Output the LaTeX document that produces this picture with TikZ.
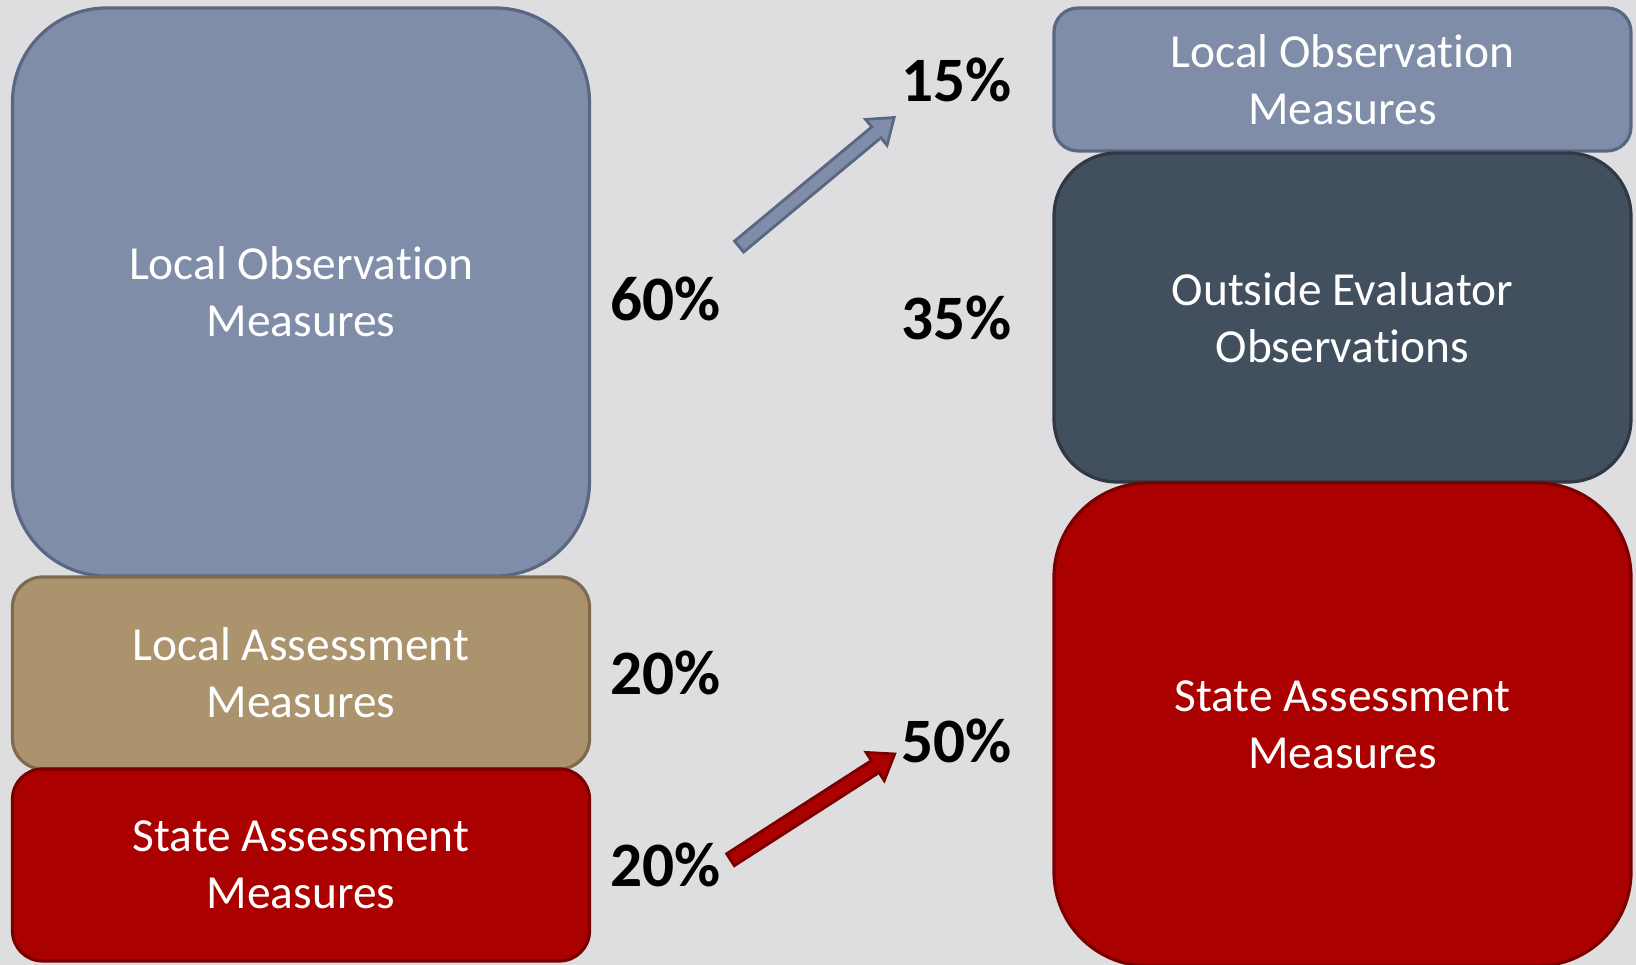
\documentclass[tikz,border=0pt]{standalone}
\usepackage{fontspec}
\setmainfont{Carlito}[Ligatures=NoCommon]
\usepackage{xcolor}
\usepackage{tikz}
\usetikzlibrary{arrows.meta,positioning}
\definecolor{bgc}{HTML}{DEDEE0}
\definecolor{obsfill}{HTML}{7F8DA8}
\definecolor{obsedge}{HTML}{5B6782}
\definecolor{locfill}{HTML}{AB936E}
\definecolor{locedge}{HTML}{7E6B4F}
\definecolor{stfill}{HTML}{AA0000}
\definecolor{stedge}{HTML}{7A0000}
\definecolor{outfill}{HTML}{424F5E}
\definecolor{outedge}{HTML}{2F3843}
\tikzset{measure box/.style={rectangle,draw,line width=0.032cm,outer sep=0pt,inner sep=0pt,minimum width=5.77cm,text=white,align=center,font=\fontsize{13.5}{16.3}\selectfont},}
\tikzset{pct/.style={inner sep=0pt,font=\fontsize{18}{20}\selectfont\bfseries},}
\tikzstyle{arrow edge} = [line width=0.17cm,-{Triangle[width=0.39cm,length=0.27cm,line width=0pt]}]
\tikzstyle{arrow core} = [line width=0.11cm,-{Triangle[width=0.28cm,length=0.19cm,line width=0pt]},shorten <=0.03cm,shorten >=0.05cm]

\begin{document}
\begin{tikzpicture}
    \fill[bgc] (0,0) rectangle (16.36,9.65);
    \useasboundingbox (0,0) rectangle (16.36,9.65);

    % before
    \node[measure box,fill=obsfill,draw=obsedge,minimum height=5.68cm,rounded corners=0.94cm] (obs) at (3.01,6.73) {Local Observation\\Measures};
    \node[measure box,fill=locfill,draw=locedge,minimum height=1.92cm,rounded corners=0.3cm] (loc)[below=0.01cm of obs] {Local Assessment\\Measures};
    \node[measure box,fill=stfill,draw=stedge,minimum height=1.92cm,rounded corners=0.3cm] (st)[below=0pt of loc] {State Assessment\\Measures};

    % after
    \node[measure box,fill=obsfill,draw=obsedge,minimum height=1.43cm,rounded corners=0.24cm] (obs2) at (13.425,8.855) {Local Observation\\Measures};
    \node[measure box,fill=outfill,draw=outedge,minimum height=3.29cm,rounded corners=0.63cm] (out)[below=0.02cm of obs2] {Outside Evaluator\\Observations};
    \node[measure box,fill=stfill,draw=stedge,minimum height=4.83cm,rounded corners=0.94cm] (st2)[below=0.01cm of out] {State Assessment\\Measures};

    \node[pct] (p60)[right=0.2cm of obs,yshift=-0.07cm] {60\%};
    \node[pct] (p20)[right=0.2cm of loc] {20\%};
    \node[pct] (p20b)[right=0.2cm of st] {20\%};
    \node[pct] (p15)[left=0.42cm of obs2] {15\%};
    \node[pct] (p35)[left=0.42cm of out] {35\%};
    \node[pct] (p50)[left=0.42cm of st2,yshift=-0.165cm] {50\%};

    \coordinate (b0) at (7.38,7.175);
    \coordinate (b1) at (8.96,8.49);
    \coordinate (r0) at (7.293,1.045);
    \coordinate (r1) at (8.967,2.123);

   	\draw [arrow edge,obsedge] (b0) -- (b1);
   	\draw [arrow core,obsfill] (b0) -- (b1);
   	\draw [arrow edge,stedge] (r0) -- (r1);
   	\draw [arrow core,stfill] (r0) -- (r1);

\end{tikzpicture}
\end{document}
